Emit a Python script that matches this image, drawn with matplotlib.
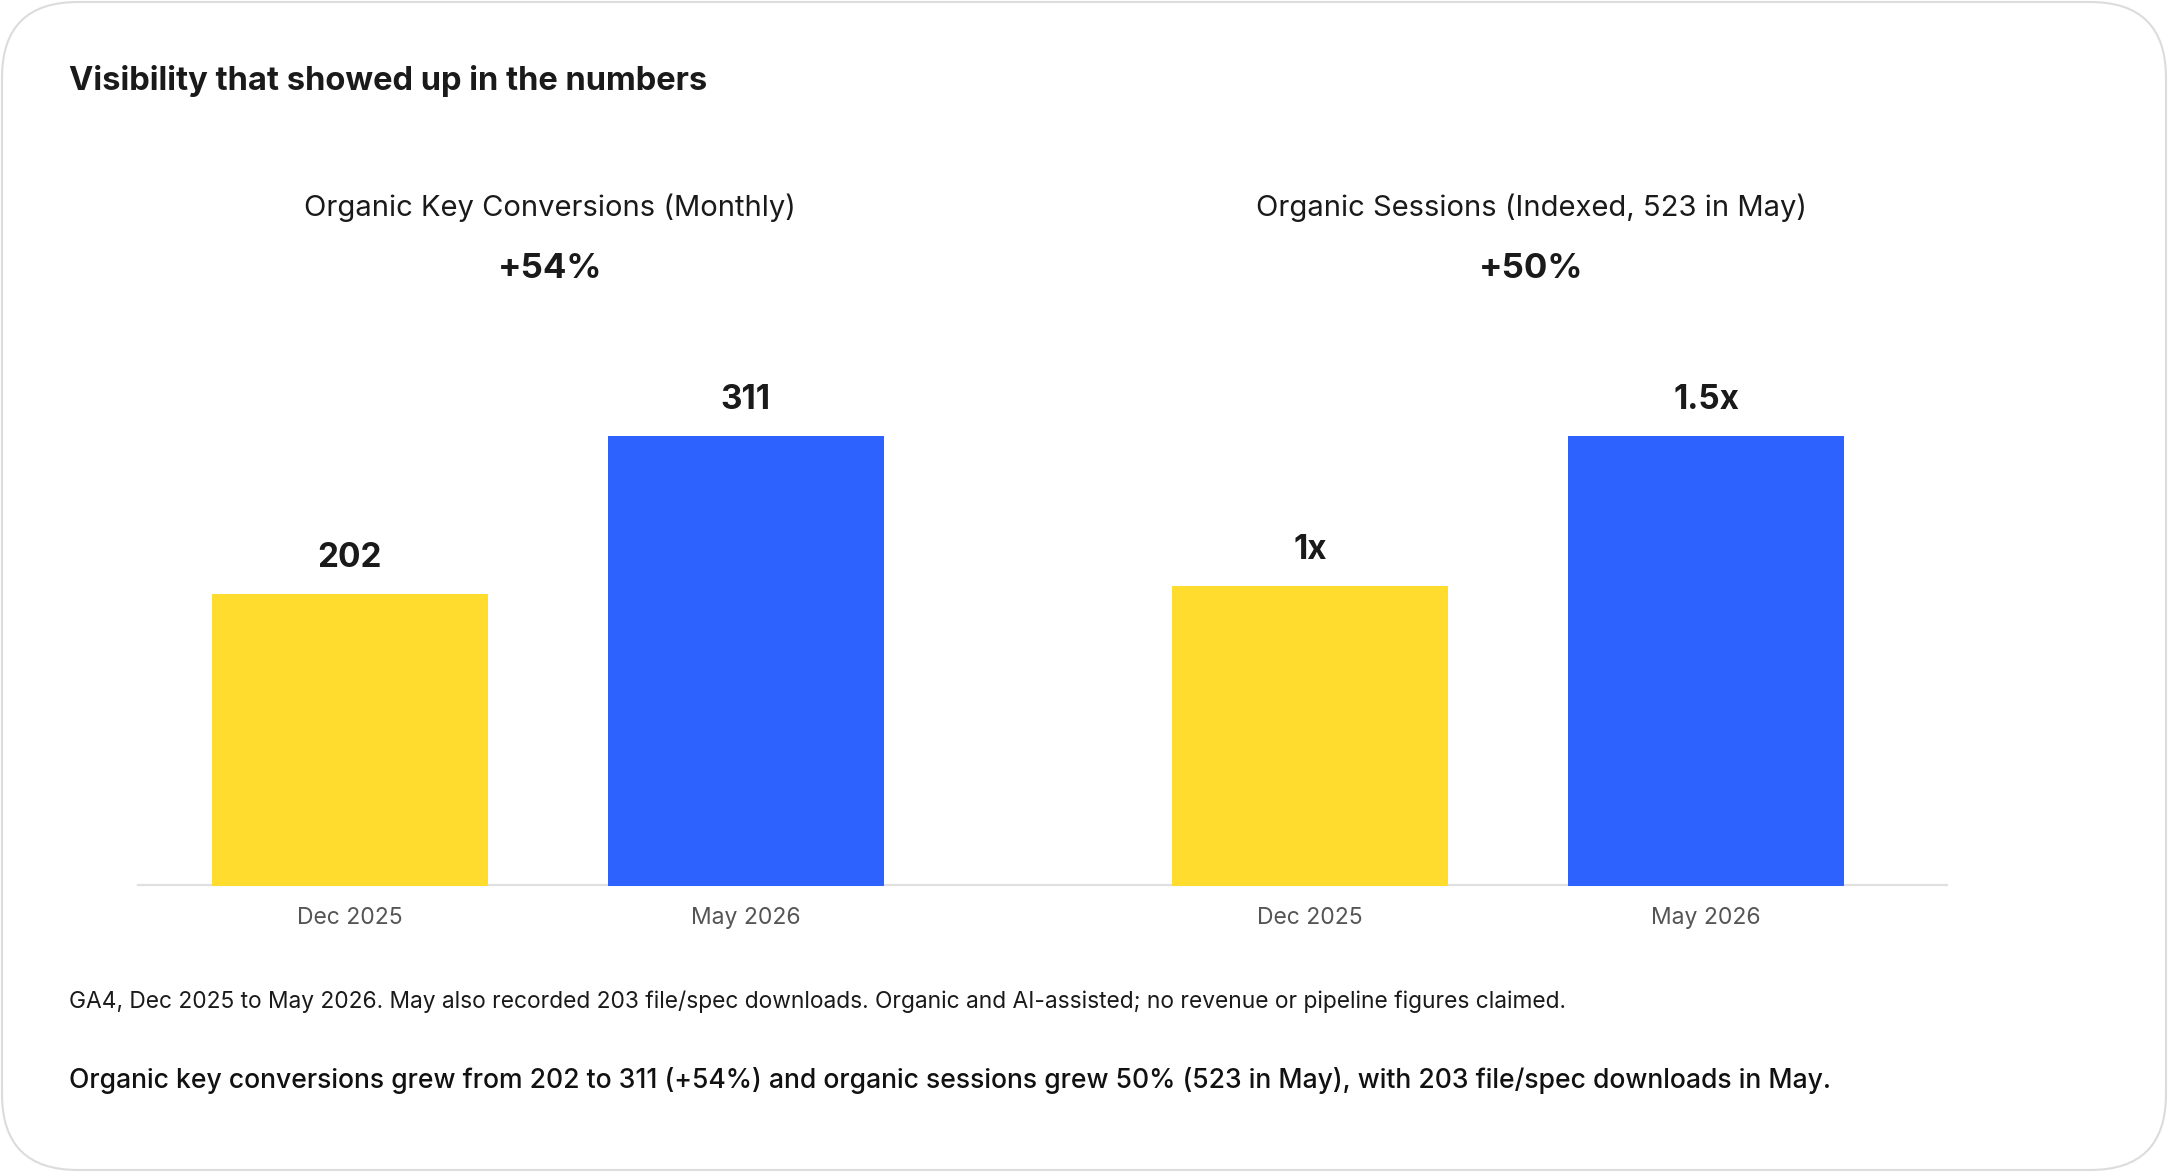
import matplotlib
matplotlib.use('Agg')
import matplotlib.pyplot as plt
from matplotlib.patches import FancyBboxPatch
from matplotlib.lines import Line2D

plt.rcParams['font.family'] = ['Inter', 'DejaVu Sans']

W, H = 2168, 1172
DPI = 100

# data
months = ['Dec 2025', 'May 2026']
conversions = [202, 311]
conversion_labels = ['202', '311']
sessions_index = [1.0, 1.5]
sessions_labels = ['1x', '1.5x']
bar_colors = ['#FFDC2E', '#2E62FF']

title = 'Visibility that showed up in the numbers'
panel_titles = ['Organic Key Conversions (Monthly)', 'Organic Sessions (Indexed, 523 in May)']
panel_changes = ['+54%', '+50%']
footnote = ('GA4, Dec 2025 to May 2026. May also recorded 203 file/spec downloads. '
            'Organic and AI-assisted; no revenue or pipeline figures claimed.')
summary = ('Organic key conversions grew from 202 to 311 (+54%) and organic sessions grew 50% '
           '(523 in May), with 203 file/spec downloads in May.')

TEXT = '#1a1a1a'


def fx(px):
    return px / W


def fy(py):
    return 1 - py / H


fig = plt.figure(figsize=(W / DPI, H / DPI), dpi=DPI)
fig.patch.set_facecolor('white')

# card outline (kept behind the axes)
card = FancyBboxPatch((fx(2), fy(1170)), fx(2164), 1168 / H,
                      boxstyle='round,pad=0,rounding_size=0.035',
                      transform=fig.transFigure, facecolor='none',
                      edgecolor='#dcdcdc', linewidth=1.5, mutation_aspect=W / H,
                      zorder=-10)
fig.patches.append(card)

fig.text(fx(69), fy(90), title, fontsize=23.5, fontweight='bold', color=TEXT, va='baseline')

# shared baseline
fig.lines.append(Line2D([fx(138), fx(1947)], [fy(885), fy(885)], transform=fig.transFigure,
                        color='#e0e0e0', linewidth=1.6, zorder=-5))


def draw_panel(left_px, values, labels, ymax):
    # axes spanning the bar area, baseline at y=886 px, top at 436 px
    ax = fig.add_axes([fx(left_px), fy(886), fx(871), 450 / H])
    ax.patch.set_alpha(0)
    ax.bar([0, 1], values, width=0.697, color=bar_colors, zorder=3)
    ax.set_xlim(-0.6, 1.6)
    ax.set_ylim(0, ymax)
    ax.axis('off')
    for i, (v, lab) in enumerate(zip(values, labels)):
        ax.annotate(lab, (i, v), xytext=(0, 19.5), textcoords='offset points',
                    ha='center', va='baseline', fontsize=24, fontweight='bold', color=TEXT,
                    annotation_clip=False)
        ax.annotate(months[i], (i, 0), xytext=(0, -27.5), textcoords='offset points',
                    ha='center', va='baseline', fontsize=16.5, color='#555555',
                    annotation_clip=False)
    return ax


draw_panel(112.4, conversions, conversion_labels, max(conversions))
draw_panel(1072.7, sessions_index, sessions_labels, max(sessions_index))

for cx, t, c in zip([550, 1531], panel_titles, panel_changes):
    fig.text(fx(cx), fy(216), t, fontsize=21, color=TEXT, ha='center', va='baseline')
    fig.text(fx(cx), fy(278), c, fontsize=25, fontweight='bold', color=TEXT, ha='center', va='baseline')

fig.text(fx(69), fy(1008), footnote, fontsize=16.4, color=TEXT, va='baseline')
fig.text(fx(69), fy(1088), summary, fontsize=19.1, fontweight='medium', color='#111111', va='baseline')

fig.savefig('out.png', dpi=DPI, facecolor='white')
